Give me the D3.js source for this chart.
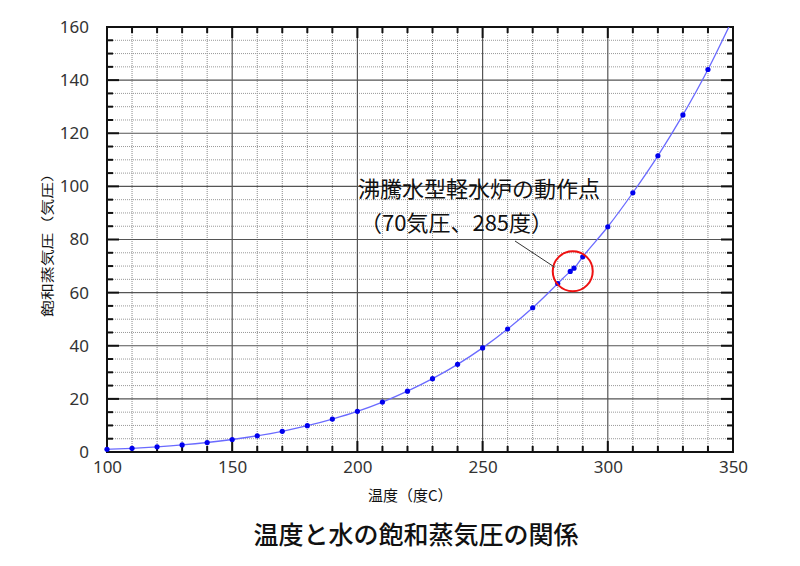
<!DOCTYPE html>
<html>
<head>
<meta charset="utf-8">
<script src="https://cdn.jsdelivr.net/npm/d3@7"></script>
<style>
  body { margin: 0; background: #fff; }
  text { font-family: "Noto Sans CJK JP", "Noto Sans", sans-serif; }
</style>
</head>
<body>
<svg id="chart" width="800" height="566"></svg>
<script>
// temperatures (deg C) and saturation pressure (atm)
var temps = [100, 110, 120, 130, 140, 150, 160, 170, 180, 190, 200, 210, 220, 230, 240, 250, 260, 270, 280, 285, 286.5, 290, 300, 310, 320, 330, 340, 350];
var pressures = [1.0, 1.4, 1.96, 2.67, 3.57, 4.7, 6.1, 7.8, 9.9, 12.4, 15.3, 18.8, 22.9, 27.6, 33.0, 39.2, 46.3, 54.3, 63.4, 68.0, 69.2, 73.5, 84.8, 97.6, 111.5, 126.9, 144.0, 163.3];
var markerTemps = [100, 110, 120, 130, 140, 150, 160, 170, 180, 190, 200, 210, 220, 230, 240, 250, 260, 270, 280, 285, 286.5, 290, 300, 310, 320, 330, 340];
var xTickLabels = [100, 150, 200, 250, 300, 350];
var yTickLabels = [0, 20, 40, 60, 80, 100, 120, 140, 160];
var opPoint = { t: 286, p: 68.8 };

var svg = d3.select("#chart");
var m = { left: 107, right: 733, top: 27, bottom: 452 };

var x = d3.scaleLinear().domain([100, 350]).range([m.left, m.right]);
var y = d3.scaleLinear().domain([0, 160]).range([m.bottom, m.top]);

var data = temps.map(function(t, i) { return { t: t, p: pressures[i] }; });

// clip
svg.append("clipPath").attr("id", "clip")
   .append("rect")
   .attr("x", m.left).attr("y", m.top)
   .attr("width", m.right - m.left).attr("height", m.bottom - m.top);

// minor grid
var g = svg.append("g");
g.selectAll(".vminor")
 .data(d3.range(110, 350, 10).filter(function(d) { return d % 50 != 0; }))
 .enter().append("line")
 .attr("x1", d => x(d)).attr("x2", d => x(d))
 .attr("y1", m.top).attr("y2", m.bottom)
 .style("stroke", "#888").style("stroke-width", 1).style("stroke-dasharray", "1,1");
g.selectAll(".hminor")
 .data(d3.range(5, 160, 5).filter(function(d) { return d % 20 != 0; }))
 .enter().append("line")
 .attr("x1", m.left).attr("x2", m.right)
 .attr("y1", d => y(d)).attr("y2", d => y(d))
 .style("stroke", "#999").style("stroke-width", 1).style("stroke-dasharray", "1,1");

// major grid
g.selectAll(".vmajor")
 .data([150, 200, 250, 300])
 .enter().append("line")
 .attr("x1", d => x(d)).attr("x2", d => x(d))
 .attr("y1", m.top).attr("y2", m.bottom)
 .style("stroke", "#555").style("stroke-width", 1.2);
g.selectAll(".hmajor")
 .data([20, 40, 60, 80, 100, 120, 140])
 .enter().append("line")
 .attr("x1", m.left).attr("x2", m.right)
 .attr("y1", d => y(d)).attr("y2", d => y(d))
 .style("stroke", "#555").style("stroke-width", 1.2);

// axis labels (ticks drawn separately, inward)
var xTicks = d3.range(100, 351, 10);
var yTicks = d3.range(0, 161, 5);

svg.append("g").attr("transform", "translate(0," + m.bottom + ")")
   .call(d3.axisBottom(x).tickValues(xTickLabels).tickSize(0).tickPadding(9).tickFormat(d3.format("d")))
   .call(function(a) { a.select(".domain").remove(); a.selectAll("text").style("font-size", "17px").style("fill", "#333").style("font-family", "'Noto Sans', sans-serif"); });
svg.append("g").attr("transform", "translate(" + m.left + ",0)")
   .call(d3.axisLeft(y).tickValues(yTickLabels).tickSize(0).tickPadding(18).tickFormat(d3.format("d")))
   .call(function(a) { a.select(".domain").remove(); a.selectAll("text").style("font-size", "17px").style("fill", "#333").style("font-family", "'Noto Sans', sans-serif"); });

var ticks = svg.append("g").style("stroke", "#111").style("stroke-width", 2);
xTicks.forEach(function(d) {
  var l = d % 50 == 0 ? 11 : 6;
  ticks.append("line").attr("x1", x(d)).attr("x2", x(d)).attr("y1", m.bottom).attr("y2", m.bottom - l);
  ticks.append("line").attr("x1", x(d)).attr("x2", x(d)).attr("y1", m.top).attr("y2", m.top + l);
});
yTicks.forEach(function(d) {
  var l = d % 20 == 0 ? 12 : 6;
  ticks.append("line").attr("x1", m.left).attr("x2", m.left + l).attr("y1", y(d)).attr("y2", y(d));
  ticks.append("line").attr("x1", m.right).attr("x2", m.right - l).attr("y1", y(d)).attr("y2", y(d));
});

// frame
svg.append("rect")
   .attr("x", m.left).attr("y", m.top)
   .attr("width", m.right - m.left).attr("height", m.bottom - m.top)
   .style("fill", "none").style("stroke", "#111").style("stroke-width", 2);

// curve
var line = d3.line().x(d => x(d.t)).y(d => y(d.p)).curve(d3.curveMonotoneX);
svg.append("path").datum(data)
   .attr("clip-path", "url(#clip)")
   .attr("d", line)
   .style("fill", "none").style("stroke", "#6a6aff").style("stroke-width", 1.3);

// markers
svg.selectAll(".dot")
   .data(data.filter(d => markerTemps.includes(d.t)))
   .enter().append("circle")
   .attr("cx", d => x(d.t)).attr("cy", d => y(d.p))
   .attr("r", 2.6)
   .style("fill", "#0000ee");

// annotation
svg.append("circle")
   .attr("cx", x(opPoint.t)).attr("cy", y(opPoint.p) + 2)
   .attr("r", 20)
   .style("fill", "none").style("stroke", "#ee1111").style("stroke-width", 2);
svg.append("line")
   .attr("x1", 515).attr("y1", 241)
   .attr("x2", x(opPoint.t) - 18).attr("y2", y(opPoint.p) - 2)
   .style("stroke", "#333").style("stroke-width", 1);
svg.append("text").attr("x", 358).attr("y", 197)
   .style("font-size", "22px").style("fill", "#111")
   .text("沸騰水型軽水炉の動作点");
svg.append("text").attr("x", 360).attr("y", 231)
   .style("font-size", "22px").style("fill", "#111")
   .text("（70気圧、285度）");

// axis titles
svg.append("text").attr("x", 368).attr("y", 501)
   .style("font-size", "15px").style("fill", "#111")
   .text("温度（度C）");
svg.append("text")
   .attr("transform", "translate(52,241) rotate(-90)")
   .attr("text-anchor", "middle")
   .attr("textLength", 152).attr("lengthAdjust", "spacingAndGlyphs")
   .style("font-size", "13px").style("fill", "#111")
   .text("飽和蒸気圧（気圧）");

// title
svg.append("text").attr("x", 416).attr("y", 544)
   .attr("text-anchor", "middle")
   .style("font-size", "25px").style("font-weight", 500).style("fill", "#111")
   .text("温度と水の飽和蒸気圧の関係");
</script>
</body>
</html>
